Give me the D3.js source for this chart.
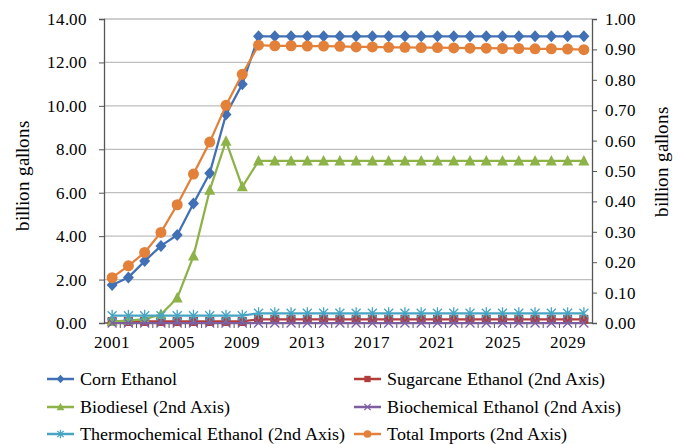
<!DOCTYPE html>
<html><head><meta charset="utf-8">
<script src="https://cdn.jsdelivr.net/npm/d3@7"></script>
<style>
@font-face { font-family: "ChartSerif"; src: local("Liberation Serif"), local("LiberationSerif"), local("Liberation Serif Regular"), local("LiberationSerif-Regular"), local("Tinos"), local("Tinos-Regular"); }
html,body{margin:0;padding:0;background:#fff;}
</style>
</head>
<body>
<svg id="c" width="679" height="444"></svg>
<script>
const years = [2001,2002,2003,2004,2005,2006,2007,2008,2009,2010,2011,2012,2013,2014,2015,2016,2017,2018,2019,2020,2021,2022,2023,2024,2025,2026,2027,2028,2029,2030];
const xTickLabels = [2001,2005,2009,2013,2017,2021,2025,2029];
const leftTicks = [0,2,4,6,8,10,12,14];
const rightTicks = [0,0.1,0.2,0.3,0.4,0.5,0.6,0.7,0.8,0.9,1.0];

const cornEthanol = [1.75,2.10,2.85,3.55,4.05,5.50,6.90,9.60,11.00,13.20,13.20,13.20,13.20,13.20,13.20,13.20,13.20,13.20,13.20,13.20,13.20,13.20,13.20,13.20,13.20,13.20,13.20,13.20,13.20,13.20];
const sugarcaneEthanol = [0.005,0.005,0.005,0.005,0.005,0.005,0.005,0.005,0.005,0.012,0.012,0.012,0.012,0.012,0.012,0.012,0.012,0.012,0.012,0.012,0.012,0.012,0.012,0.012,0.012,0.012,0.012,0.012,0.012,0.012];
const biodiesel = [0.005,0.008,0.013,0.028,0.082,0.220,0.437,0.598,0.448,0.533,0.533,0.533,0.533,0.533,0.533,0.533,0.533,0.533,0.533,0.533,0.533,0.533,0.533,0.533,0.533,0.533,0.533,0.533,0.533,0.533];
const biochemicalEthanol = [0,0,0,0,0,0,0,0,0,0,0,0,0,0,0,0,0,0,0,0,0,0,0,0,0,0,0,0,0,0];
const thermochemicalEthanol = [0.024,0.024,0.024,0.024,0.024,0.024,0.024,0.024,0.024,0.032,0.032,0.032,0.032,0.032,0.032,0.032,0.032,0.032,0.032,0.032,0.032,0.032,0.032,0.032,0.032,0.032,0.032,0.032,0.032,0.032];
const totalImports = [0.149,0.188,0.232,0.298,0.389,0.490,0.595,0.716,0.818,0.914,0.912,0.912,0.911,0.911,0.910,0.908,0.908,0.907,0.907,0.906,0.906,0.905,0.904,0.904,0.903,0.903,0.902,0.902,0.901,0.899];

const seriesNames = ["Corn Ethanol","Sugarcane Ethanol (2nd Axis)","Biodiesel (2nd Axis)","Biochemical Ethanol (2nd Axis)","Thermochemical Ethanol (2nd Axis)","Total Imports (2nd Axis)"];
const seriesColors = ["#4170B4","#B13C3A","#8CB248","#7D5FA0","#47A4C2","#E3803A"];

const series = [
  {name:seriesNames[0], values:cornEthanol, axis:"L", color:seriesColors[0], marker:"diamond"},
  {name:seriesNames[1], values:sugarcaneEthanol, axis:"R", color:seriesColors[1], marker:"square"},
  {name:seriesNames[2], values:biodiesel, axis:"R", color:seriesColors[2], marker:"triangle"},
  {name:seriesNames[3], values:biochemicalEthanol, axis:"R", color:seriesColors[3], marker:"x"},
  {name:seriesNames[4], values:thermochemicalEthanol, axis:"R", color:seriesColors[4], marker:"star"},
  {name:seriesNames[5], values:totalImports, axis:"R", color:seriesColors[5], marker:"circle"}
];

const FONT = "ChartSerif, 'Liberation Serif', Tinos, serif";
const svg = d3.select("#c");
const L = 104, R = 592, T = 19, B = 323;
const x = d3.scaleBand().domain(years).range([L, R]);
const yL = d3.scaleLinear().domain([0,14]).range([B, T]);
const yR = d3.scaleLinear().domain([0,1]).range([B, T]);

svg.append("g").selectAll("line").data(leftTicks.slice(1)).join("line")
  .attr("x1", L).attr("x2", R).attr("y1", d=>yL(d)).attr("y2", d=>yL(d))
  .attr("stroke", "#BEBEBE").attr("stroke-width", 1.3);

const gL = svg.append("g").attr("transform", `translate(${L},0)`)
  .call(d3.axisLeft(yL).tickValues(leftTicks).tickFormat(d3.format(".2f")).tickSize(5).tickPadding(12));
const gR = svg.append("g").attr("transform", `translate(${R},0)`)
  .call(d3.axisRight(yR).tickValues(rightTicks).tickFormat(d3.format(".2f")).tickSize(5).tickPadding(8));
const gX = svg.append("g").attr("transform", `translate(0,${B})`)
  .call(d3.axisBottom(x).tickValues(years).tickSize(0).tickPadding(13).tickFormat(d => xTickLabels.includes(d) ? d : ""));
gX.append("g").selectAll("line").data(years.slice(1)).join("line")
  .attr("x1", d=>x(d)).attr("x2", d=>x(d)).attr("y1", 0).attr("y2", 5)
  .attr("stroke", "#555").attr("stroke-width", 1);

[gL,gR,gX].forEach(g=>{
  g.attr("font-family", FONT).attr("font-size", 17);
  g.selectAll(".domain").attr("stroke","#555").attr("stroke-width",1.3);
  g.selectAll(".tick line").attr("stroke","#555");
  g.selectAll("text").style("font-family", FONT).style("font-size", "17px").attr("fill","#000");
});
gX.select(".domain").attr("d", `M${L},0H${R}`);

svg.append("text").attr("transform", `translate(29,176) rotate(-90)`).attr("text-anchor","middle")
  .style("font-family", FONT).style("font-size", "18.5px").attr("fill","#000").text("billion gallons");
svg.append("text").attr("transform", `translate(668,162) rotate(-90)`).attr("text-anchor","middle")
  .style("font-family", FONT).style("font-size", "18.5px").attr("fill","#000").text("billion gallons");

function drawMarker(g, type, color, cx, cy, k) {
  k = k || 1;
  if (type === "diamond") {
    g.append("path").attr("d", `M${cx},${cy-6*k}L${cx+5.5*k},${cy}L${cx},${cy+6*k}L${cx-5.5*k},${cy}Z`).attr("fill", color);
  } else if (type === "square") {
    g.append("rect").attr("x", cx-4.5*k).attr("y", cy-4.5*k).attr("width", 9*k).attr("height", 9*k).attr("fill", color);
  } else if (type === "triangle") {
    g.append("path").attr("d", `M${cx},${cy-6*k}L${cx+5.5*k},${cy+4.5*k}L${cx-5.5*k},${cy+4.5*k}Z`).attr("fill", color);
  } else if (type === "circle") {
    g.append("circle").attr("cx", cx).attr("cy", cy).attr("r", 5.5*k).attr("fill", color);
  } else if (type === "x") {
    g.append("path").attr("d", `M${cx-4.5*k},${cy-4.5*k}L${cx+4.5*k},${cy+4.5*k}M${cx+4.5*k},${cy-4.5*k}L${cx-4.5*k},${cy+4.5*k}`)
      .attr("stroke", color).attr("stroke-width", 1.3).attr("fill","none");
  } else if (type === "star") {
    g.append("path").attr("d", `M${cx-4.5*k},${cy-4.5*k}L${cx+4.5*k},${cy+4.5*k}M${cx+4.5*k},${cy-4.5*k}L${cx-4.5*k},${cy+4.5*k}M${cx},${cy-6*k}L${cx},${cy+6*k}`)
      .attr("stroke", color).attr("stroke-width", 1.3).attr("fill","none");
  }
}

const plot = svg.append("g");
series.forEach(s => {
  const ys = s.axis === "L" ? yL : yR;
  const line = d3.line().x((d,i)=>x(years[i]) + x.bandwidth()/2).y(d=>ys(d));
  const g = plot.append("g");
  g.append("path").datum(s.values).attr("d", line).attr("fill","none")
    .attr("stroke", s.color).attr("stroke-width", 2.25).attr("stroke-linejoin","round");
  s.values.forEach((v,i) => drawMarker(g, s.marker, s.color, x(years[i]) + x.bandwidth()/2, ys(v)));
});

const legendPos = [[47,379],[354,379],[47,407],[354,407],[47,434],[354,434]];
series.forEach((s,i) => {
  const [lx, ly] = legendPos[i];
  const g = svg.append("g");
  g.append("line").attr("x1", lx).attr("x2", lx+27).attr("y1", ly).attr("y2", ly)
    .attr("stroke", s.color).attr("stroke-width", 2.5);
  drawMarker(g, s.marker, s.color, lx+13.5, ly, 0.7);
  g.append("text").attr("x", lx+33).attr("y", ly+6).style("font-family", FONT).style("font-size", "18px").attr("fill","#000").text(s.name);
});
</script>
</body></html>
